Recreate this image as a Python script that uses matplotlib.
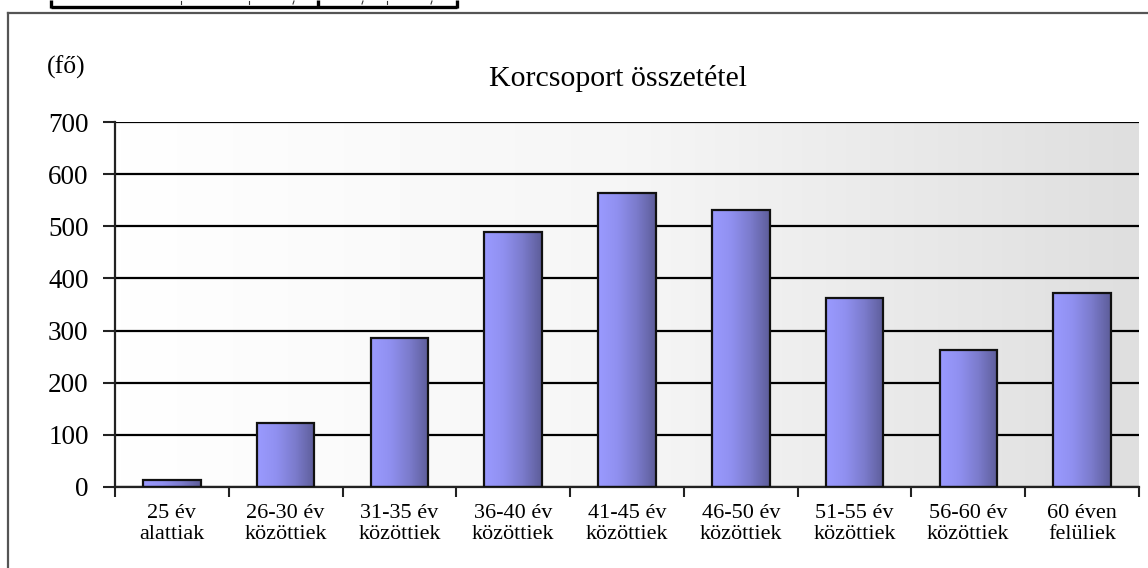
import numpy as np
import matplotlib
matplotlib.use('Agg')
import matplotlib.pyplot as plt
from matplotlib.colors import LinearSegmentedColormap
from matplotlib.lines import Line2D

categories = ['25 év\nalattiak', '26-30 év\nközöttiek', '31-35 év\nközöttiek',
              '36-40 év\nközöttiek', '41-45 év\nközöttiek', '46-50 év\nközöttiek',
              '51-55 év\nközöttiek', '56-60 év\nközöttiek', '60 éven\nfelüliek']
values = [13, 122, 286, 489, 564, 532, 363, 263, 373]
yticks = [0, 100, 200, 300, 400, 500, 600, 700]
title = 'Korcsoport összetétel'
unit = '(fő)'

W, H = 1148, 568
plt.rcParams['font.family'] = ['Liberation Serif', 'DejaVu Serif']

fig = plt.figure(figsize=(W / 100, H / 100), dpi=100)
fig.patch.set_facecolor('white')

def fx(px):
    return px / W

def fy(py):
    return 1 - py / H

ax = fig.add_axes([fx(115), fy(487), fx(1139) - fx(115), fy(122) - fy(487)])
n = len(values)
x = np.arange(n)

# background gradient
bg = LinearSegmentedColormap.from_list('bg', ['#ffffff', '#f6f6f6', '#dfdfdf'])
ax.imshow(np.linspace(0, 1, 256)[None, :], cmap=bg, aspect='auto',
          extent=[-0.5, n - 0.5, 0, 700], zorder=0, interpolation='bicubic')

# grid
ax.set_yticks(yticks)
ax.yaxis.grid(True, color='black', lw=1.6)
ax.set_axisbelow(True)

# bars with gradient
barcm = LinearSegmentedColormap.from_list('bar', ['#9a9aff', '#9090f0', '#7b7bcc', '#5d5d99'])
width = 0.505
bars = ax.bar(x, values, width=width, facecolor='none', edgecolor='#111111', lw=1.6, zorder=3)
for b in bars:
    x0, y0 = b.get_x(), b.get_y()
    ax.imshow(np.linspace(0, 1, 256)[None, :], cmap=barcm, aspect='auto',
              extent=[x0, x0 + b.get_width(), y0, y0 + b.get_height()],
              zorder=2, interpolation='bicubic')
ax.set_xlim(-0.5, n - 0.5)
ax.set_ylim(0, 700)

# ticks
ax.set_xticks(np.arange(-0.5, n, 1))
ax.set_xticklabels([])
ax.set_xticks(x, minor=True)
ax.set_xticklabels(categories, minor=True, fontsize=16, linespacing=1.15)
ax.tick_params(axis='x', which='major', length=7, width=1.5, direction='out', color='#222222')
ax.tick_params(axis='x', which='minor', length=0, pad=12)
ax.tick_params(axis='y', length=9, width=1.5, direction='out', labelsize=19.5, pad=10, color='#222222')

for s in ['top', 'right']:
    ax.spines[s].set_visible(False)
for s in ['left', 'bottom']:
    ax.spines[s].set_linewidth(1.6)
    ax.spines[s].set_color('#222222')

# titles
fig.text(fx(618), fy(86), title, ha='center', va='baseline', fontsize=21.5)
fig.text(fx(47), fy(74), unit, ha='left', va='baseline', fontsize=18.5)

# outer frame
fig.add_artist(Line2D([fx(8), fx(8)], [0, fy(13)], color='#555555', lw=1.6))
fig.add_artist(Line2D([fx(8), 1], [fy(13), fy(13)], color='#555555', lw=1.6))

# table fragment at top
tb = dict(color='black', lw=2.4, solid_capstyle='butt')
fig.add_artist(Line2D([fx(51), fx(457)], [fy(6.5), fy(6.5)], **tb))
for px in [51, 318, 457]:
    fig.add_artist(Line2D([fx(px), fx(px)], [fy(7.5), 1], **tb))
for px in [181, 249, 387]:
    fig.add_artist(Line2D([fx(px), fx(px)], [fy(1), fy(4)], color='#333333', lw=0.8))
for px in [294, 363, 432]:
    fig.add_artist(Line2D([fx(px), fx(px - 1)], [fy(1), fy(4)], color='#333333', lw=0.8))

fig.savefig('out.png', dpi=100)
